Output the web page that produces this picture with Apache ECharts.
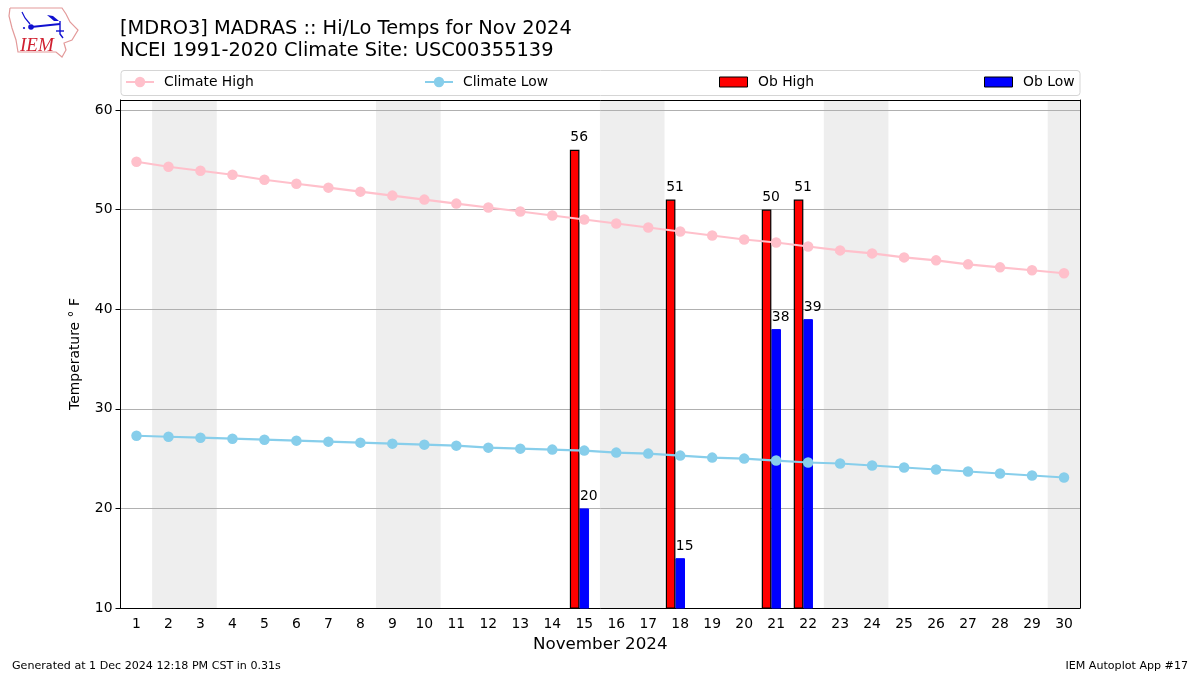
<!DOCTYPE html>
<html><head><meta charset="utf-8">
<style>html,body{margin:0;padding:0;background:#fff}#c{width:1200px;height:675px}</style>
<script src="https://cdn.jsdelivr.net/npm/echarts@6/dist/echarts.min.js"></script>
</head><body><div id="c"></div>
<script>
const days = ['1','2','3','4','5','6','7','8','9','10','11','12','13','14','15','16','17','18','19','20','21','22','23','24','25','26','27','28','29','30'];
const weekendDays = ['2','3','9','10','16','17','23','24','30'];
const climateHigh = [54.8,54.3,53.9,53.5,53.0,52.6,52.2,51.8,51.4,51.0,50.6,50.2,49.8,49.4,49.0,48.6,48.2,47.8,47.4,47.0,46.7,46.3,45.9,45.6,45.2,44.9,44.5,44.2,43.9,43.6];
const climateLow = [27.3,27.2,27.1,27.0,26.9,26.8,26.7,26.6,26.5,26.4,26.3,26.1,26.0,25.9,25.8,25.6,25.5,25.3,25.1,25.0,24.8,24.6,24.5,24.3,24.1,23.9,23.7,23.5,23.3,23.1];
const obDays = ['15','18','21','22'];
const obHighValues = [56,51,50,51];
const obLowValues = [20,15,38,39];
const yTicks = [10,20,30,40,50,60];
const yMin = 10, yMax = 61;

const obHigh = days.map(d => { const i = obDays.indexOf(d); return i < 0 ? null : obHighValues[i]; });
const obLow = days.map(d => { const i = obDays.indexOf(d); return i < 0 ? null : obLowValues[i]; });
const weekend = days.map(d => weekendDays.includes(d) ? yMax : null);
const FONT = '"DejaVu Sans"';
const lineLegend = (name, left) => ({
  data: [name], left, top: 75, itemWidth: 28, itemHeight: 13, itemGap: 0, padding: 0,
  textStyle: { fontFamily: FONT, fontSize: 13.9, color: '#000', padding: [0,0,0,5] }
});
const barLegend = (name, left) => ({
  data: [name], left, top: 75, icon: 'rect', itemWidth: 28, itemHeight: 10, itemGap: 0, padding: 0,
  itemStyle: { borderWidth: 1, borderColor: '#000' },
  textStyle: { fontFamily: FONT, fontSize: 13.9, color: '#000', padding: [0,0,0,5.5] }
});
const barLabel = { show: true, position: 'top', distance: 5, offset: [4.5, 0], fontFamily: FONT, fontSize: 13.9, color: '#000' };

const chart = echarts.init(document.getElementById('c'), null, { renderer: 'canvas' });
chart.setOption({
  animation: false,
  backgroundColor: '#fff',
  textStyle: { fontFamily: FONT },
  grid: { left: 120.5, top: 100, width: 959.5, height: 508, show: false },
  legend: [lineLegend('Climate High', 125), lineLegend('Climate Low', 424), barLegend('Ob High', 719), barLegend('Ob Low', 984)],
  xAxis: [{
    type: 'category', data: days, boundaryGap: true, name: 'November 2024', nameLocation: 'middle', nameGap: 22,
    nameTextStyle: { fontFamily: FONT, fontSize: 16.7, color: '#000', padding: [6,0,0,0] },
    axisLine: { onZero: false, lineStyle: { color: '#000', width: 1 } },
    axisTick: { alignWithLabel: true, length: 5, lineStyle: { color: '#000' } },
    axisLabel: { interval: 0, fontFamily: FONT, fontSize: 13.9, color: '#000', margin: 9 },
    splitLine: { show: false }
  }, {
    type: 'category', data: days, position: 'top', boundaryGap: true,
    axisLine: { show: true, onZero: false, lineStyle: { color: '#000', width: 1 } },
    axisTick: { show: false }, axisLabel: { show: false }, splitLine: { show: false }
  }],
  yAxis: [{
    type: 'value', min: yMin, max: yMax, interval: 10,
    name: 'Temperature ° F', nameLocation: 'middle', nameGap: 38,
    nameTextStyle: { fontFamily: FONT, fontSize: 13.9, color: '#000' },
    axisLine: { show: true, onZero: false, lineStyle: { color: '#000', width: 1 } },
    axisTick: { show: true, length: 5, lineStyle: { color: '#000' }, customValues: yTicks },
    axisLabel: { fontFamily: FONT, fontSize: 13.9, color: '#000', margin: 8, padding: [3,0,0,0], customValues: yTicks },
    splitLine: { show: true, lineStyle: { color: '#b0b0b0', width: 1 } }
  }, {
    type: 'value', min: yMin, max: yMax, position: 'right',
    axisLine: { show: true, onZero: false, lineStyle: { color: '#000', width: 1 } },
    axisTick: { show: false }, axisLabel: { show: false }, splitLine: { show: false }
  }],
  series: [
    { name: 'Weekend', type: 'bar', xAxisIndex: 1, yAxisIndex: 0, data: weekend, barWidth: '102%', z: -1, silent: true,
      itemStyle: { color: '#eeeeee' } },
    { name: 'Ob High', type: 'bar', data: obHigh, barWidth: 9.6, barGap: 0, z: 2,
      itemStyle: { color: '#ff0000', borderColor: '#000', borderWidth: 1.2 }, label: barLabel },
    { name: 'Ob Low', type: 'bar', data: obLow, barWidth: 9.6, barGap: 0, z: 1,
      itemStyle: { color: '#0000ff', borderColor: '#0000ff', borderWidth: 1 }, label: barLabel },
    { name: 'Spacer', type: 'bar', data: [], barWidth: 9.6, barGap: 0 },
    { name: 'Climate High', type: 'line', data: climateHigh, symbol: 'circle', symbolSize: 10.5, z: 5,
      lineStyle: { color: '#ffc0cb', width: 2.1 }, itemStyle: { color: '#ffc0cb' } },
    { name: 'Climate Low', type: 'line', data: climateLow, symbol: 'circle', symbolSize: 10.5, z: 5,
      lineStyle: { color: '#87ceeb', width: 2.1 }, itemStyle: { color: '#87ceeb' } }
  ],
  graphic: [
    { type: 'rect', z: -10, silent: true, shape: { x: 121, y: 70.5, width: 959, height: 25, r: 3 }, style: { fill: '#fff', stroke: '#d5d5d5', lineWidth: 1 } },
    { type: 'text', left: 120, top: 19.5, style: { text: '[MDRO3] MADRAS :: Hi/Lo Temps for Nov 2024', font: '19.4px "DejaVu Sans"', fill: '#000' } },
    { type: 'text', left: 120, top: 41, style: { text: 'NCEI 1991-2020 Climate Site: USC00355139', font: '19.4px "DejaVu Sans"', fill: '#000' } },
    { type: 'text', left: 12, top: 661, style: { text: 'Generated at 1 Dec 2024 12:18 PM CST in 0.31s', font: '11.1px "DejaVu Sans"', fill: '#000' } },
    { type: 'text', right: 12, top: 661, style: { text: 'IEM Autoplot App #17', font: '11.1px "DejaVu Sans"', fill: '#000' } },
    { type: 'polyline', silent: true, shape: { points: [[10,8],[62,8],[66,14],[70,22],[78,30],[72,40],[64,43],[66,50],[62,57],[56,52],[18,52],[16,40],[12,28],[9,16],[10,8]] }, style: { fill: 'none', stroke: '#e39a9a', lineWidth: 1.2 } },
    { type: 'polyline', silent: true, shape: { points: [[31,27],[60,24]] }, style: { stroke: '#1010d0', fill: 'none', lineWidth: 1.8 } },
    { type: 'polyline', silent: true, shape: { points: [[22,12],[25,18],[30,24]] }, style: { stroke: '#1010d0', fill: 'none', lineWidth: 1.2 } },
    { type: 'polygon', silent: true, shape: { points: [[47,15],[53,16],[59,21],[54,21]] }, style: { fill: '#1010d0' } },
    { type: 'polyline', silent: true, shape: { points: [[60,21],[60,34],[63,38]] }, style: { stroke: '#1010d0', fill: 'none', lineWidth: 1.4 } },
    { type: 'polyline', silent: true, shape: { points: [[56,31],[64,31]] }, style: { stroke: '#1010d0', fill: 'none', lineWidth: 1.4 } },
    { type: 'circle', silent: true, shape: { cx: 31, cy: 27, r: 2.8 }, style: { fill: '#1010d0' } },
    { type: 'circle', silent: true, shape: { cx: 24, cy: 28, r: 1.1 }, style: { fill: '#1010d0' } },
    { type: 'text', left: 20, top: 36, style: { text: 'IEM', font: 'italic 19px "Liberation Serif"', fill: '#d02030' } }
  ]
});
</script></body></html>
